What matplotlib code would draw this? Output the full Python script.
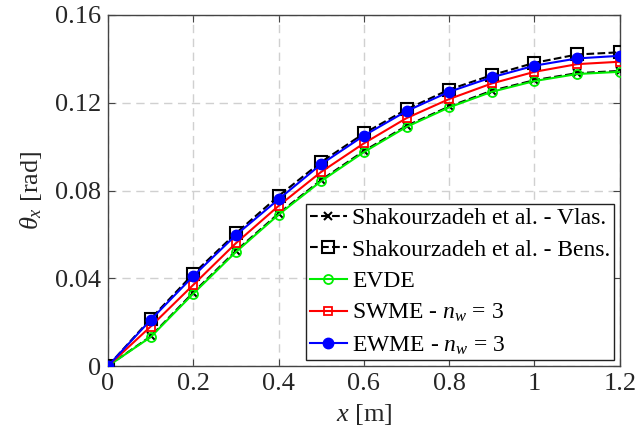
import matplotlib
matplotlib.use("Agg")
import matplotlib.pyplot as plt
from matplotlib.font_manager import FontProperties

x = [0, 0.1, 0.2, 0.3, 0.4, 0.5, 0.6, 0.7, 0.8, 0.9, 1.0, 1.1, 1.2]
vlas = [0, 0.0135, 0.0335, 0.0525, 0.0695, 0.0848, 0.0980, 0.1095, 0.1183, 0.1255, 0.1303, 0.1335, 0.1345]
bens = [0, 0.0215, 0.0420, 0.0605, 0.0775, 0.0930, 0.1060, 0.1170, 0.1260, 0.1326, 0.1382, 0.1420, 0.1430]
evde = [0, 0.0132, 0.0330, 0.0520, 0.0690, 0.0843, 0.0975, 0.1090, 0.1179, 0.1250, 0.1299, 0.1331, 0.1341]
swme = [0, 0.0180, 0.0370, 0.0560, 0.0730, 0.0885, 0.1015, 0.1130, 0.1217, 0.1288, 0.1341, 0.1376, 0.1387]
ewme = [0, 0.0210, 0.0410, 0.0597, 0.0760, 0.0920, 0.1050, 0.1162, 0.1250, 0.1316, 0.1369, 0.1402, 0.1414]

xticks = [0, 0.2, 0.4, 0.6, 0.8, 1.0, 1.2]
xtick_labels = ["0", "0.2", "0.4", "0.6", "0.8", "1", "1.2"]
yticks = [0, 0.04, 0.08, 0.12, 0.16]
ytick_labels = ["0", "0.04", "0.08", "0.12", "0.16"]

FAM = 'Liberation Serif'
TXT = '#262626'
plt.rcParams['font.family'] = 'serif'
plt.rcParams['font.serif'] = [FAM, 'DejaVu Serif']
plt.rcParams['mathtext.fontset'] = 'custom'
plt.rcParams['mathtext.rm'] = FAM
plt.rcParams['mathtext.it'] = FAM + ':italic'
plt.rcParams['mathtext.bf'] = FAM + ':bold'

fig = plt.figure(figsize=(6.37, 4.41), dpi=100)
ax = fig.add_axes([0.1695, 0.170, 0.8035, 0.796])

ax.plot(x, vlas, 'k--', marker='x', ms=5.5, mew=1.5, lw=1.5, label='Shakourzadeh et al. - Vlas.', zorder=3)
ax.plot(x, bens, 'k--', marker='s', ms=8, mfc='none', mew=1.5, lw=1.5, label='Shakourzadeh et al. - Bens.', zorder=3)
ax.plot(x, evde, '-', color='#00ee00', marker='o', ms=6.5, mfc='none', mew=1.3, lw=1.5, label='EVDE', zorder=4)
ax.plot(x, swme, '-', color='#ff0000', marker='s', ms=6, mfc='none', mew=1.3, lw=1.5, label='SWME - $n_w$ = 3', zorder=5)
ax.plot(x, ewme, '-', color='#0000ff', marker='o', ms=7.5, mfc='#0000ff', mew=1.0, lw=1.5, label='EWME - $n_w$ = 3', zorder=6)

ax.tick_params(direction='in', length=5, top=True, right=True, color='#444444', pad=5)
ax.set_xlim(0, 1.2)
ax.set_ylim(0, 0.16)
ax.set_xticks(xticks, xtick_labels, fontfamily=FAM, fontsize=19, color=TXT)
ax.set_yticks(yticks, ytick_labels, fontfamily=FAM, fontsize=19, color=TXT)
for lab in ax.get_xticklabels() + ax.get_yticklabels():
    lab.set_fontfamily(FAM)
    lab.set_fontsize(19)
ax.grid(True, linestyle=(0, (6, 4)), color='#d0d0d0', lw=1.0)
for s in ax.spines.values():
    s.set_color('#444444')
    s.set_linewidth(1.0)

ax.set_xlabel('$x$ [m]', fontfamily=FAM, fontsize=19, color=TXT, labelpad=5)
ax.set_ylabel(r'$\theta_x$ [rad]', fontfamily=FAM, fontsize=19, color=TXT, labelpad=8)

leg = ax.legend(loc='lower right', prop=FontProperties(family=FAM, size=17), frameon=True, fancybox=False,
                edgecolor='#222222', framealpha=1, borderpad=0.15, handlelength=1.6,
                handletextpad=0.2, labelspacing=0.42, borderaxespad=0.25)
leg.get_frame().set_linewidth(1.0)

fig.savefig('out.png', dpi=100)
